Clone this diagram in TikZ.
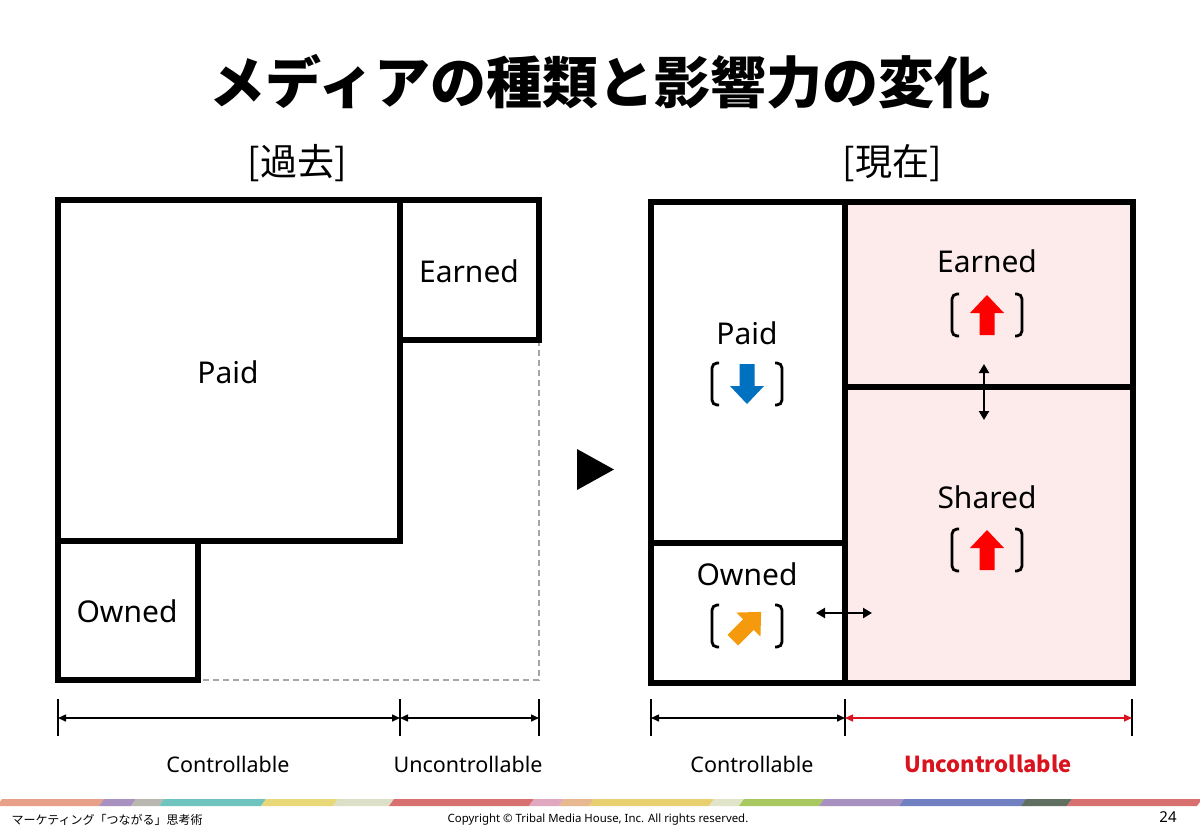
\documentclass[tikz,border=0pt]{standalone}
\usepackage{fontspec}
\setmainfont{Noto Sans}
\newfontfamily\cjk{Noto Sans CJK JP}
\usetikzlibrary{arrows.meta}
\definecolor{paidblue}{HTML}{0070C0}
\definecolor{risered}{HTML}{FF0000}
\definecolor{ownedorange}{HTML}{F59A0C}
\definecolor{sharedpink}{HTML}{FDEBEB}
\definecolor{limitred}{HTML}{D9141E}
\definecolor{dashgray}{HTML}{A6A6A6}
\tikzstyle{mediabox} = [
    draw=black,
    line width=6pt
    ]
\tikzstyle{medialabel} = [
    font=\fontsize{30}{36}\selectfont
    ]
\tikzstyle{scalelabel} = [
    font=\fontsize{21.5}{26}\selectfont
    ]
\tikzstyle{eratitle} = [
    font=\cjk\fontsize{37}{42}\selectfont
    ]
\tikzstyle{dimtick} = [
    line width=2pt
    ]
\tikzstyle{dimline} = [
    line width=1.5pt,
    {Triangle[length=8pt,width=7pt]}-{Triangle[length=8pt,width=7pt]}
    ]
\tikzstyle{swaparrow} = [
    line width=2.5pt,
    {Triangle[length=9pt,width=10pt]}-{Triangle[length=9pt,width=10pt]}
    ]
\newcommand{\trendmark}[4]{%
    \draw[line width=2.8pt, rounded corners=5pt] (#1-28,#2-21) -- (#1-35,#2-21) -- (#1-35,#2+21) -- (#1-28,#2+21);
    \draw[line width=2.8pt, rounded corners=5pt] (#1+28,#2-21) -- (#1+35,#2-21) -- (#1+35,#2+21) -- (#1+28,#2+21);
    \fill[#4, shift={(#1,#2)}, rotate=#3] (0,-20) -- (17,-2) -- (7.5,-2) -- (7.5,20) -- (-7.5,20) -- (-7.5,-2) -- (-17,-2) -- cycle;
}

\begin{document}
\begin{tikzpicture}[x=1pt, y=-1pt]
\useasboundingbox (0,0) rectangle (1200,831);

\node (title) at (600,82) {\cjk\bfseries\fontsize{56}{60}\selectfont メディアの種類と影響力の変化};

% past
\node[eratitle] (past) at (297,163) {[過去]};
\draw[dashgray, line width=1.5pt, dash pattern=on 6pt off 4pt] (539,340) -- (539,680) -- (198,680);
\draw[mediabox] (58,200) rectangle (400,541);
\draw[mediabox] (400,200) rectangle (539,340);
\draw[mediabox] (58,541) rectangle (198,680);
\node[medialabel] (paidpast) at (228,372) {Paid};
\node[medialabel] (earnedpast) at (469,271) {Earned};
\node[medialabel] (ownedpast) at (127,611) {Owned};

\coordinate (pa) at (58,718);
\coordinate (pb) at (400,718);
\coordinate (pc) at (539,718);
\foreach \p in {pa,pb,pc}
    \draw[dimtick] ([yshift=-18pt]\p) -- ([yshift=19pt]\p);
\draw[dimline] (pa) -- (pb);
\draw[dimline] (pb) -- (pc);
\node[scalelabel] (ctrlpast) at (228,764) {Controllable};
\node[scalelabel] (unctrlpast) at (468,764) {Uncontrollable};

\fill (577,449) -- (614,469.5) -- (577,490) -- cycle;

% now
\node[eratitle] (now) at (892,163) {[現在]};
\fill[sharedpink] (845,202) rectangle (1133,683);
\draw[mediabox] (651,202) rectangle (1133,683);
\draw[mediabox] (845,202) -- (845,683);
\draw[mediabox] (845,387) -- (1133,387);
\draw[mediabox] (651,543) -- (845,543);
\node[medialabel] (paidnow) at (747,333) {Paid};
\node[medialabel] (earnednow) at (987,261) {Earned};
\node[medialabel] (sharednow) at (987,497) {Shared};
\node[medialabel] (ownednow) at (747,574) {Owned};
\trendmark{747}{384}{180}{paidblue}
\trendmark{987}{315}{0}{risered}
\trendmark{987}{550}{0}{risered}
\trendmark{747}{626}{-45}{ownedorange}

\coordinate (ea) at (984,364);
\coordinate (eb) at (984,420);
\draw[swaparrow] (ea) -- (eb);
\coordinate (oa) at (816,613);
\coordinate (ob) at (872,613);
\draw[swaparrow] (oa) -- (ob);

\coordinate (na) at (651,718);
\coordinate (nb) at (845,718);
\coordinate (nc) at (1132,718);
\foreach \p in {na,nb,nc}
    \draw[dimtick] ([yshift=-18pt]\p) -- ([yshift=19pt]\p);
\draw[dimline] (na) -- (nb);
\draw[dimline, limitred] (nb) -- (nc);
\node[scalelabel] (ctrlnow) at (752,764) {Controllable};
\node[text=limitred, font=\cjk\bfseries\fontsize{22}{26}\selectfont] (unctrlnow) at (988,764) {Uncontrollable};

% footer
\foreach \xa/\xb/\c in {0/102/E8A088, 102/134/A890C0, 134/162/B8B8B0, 162/264/70C4C0, 264/336/E8D878, 336/392/DDE0C8, 392/532/D87070, 532/562/E0A8C0, 562/592/E8B890, 592/712/E8D070, 712/742/E0E4C8, 742/822/A8C860, 822/902/A890C0, 902/1024/7080C0, 1024/1070/607060, 1070/1200/D87070}{
    \definecolor{stripcolor}{HTML}{\c}
    \fill[stripcolor] (\xa-3,806) -- (\xa+2,799) -- (\xb+2,799) -- (\xb-3,806) -- cycle;
}
\node[anchor=west, font=\cjk\fontsize{12}{14}\selectfont] (series) at (8,820) {マーケティング「つながる」思考術};
\node[font=\fontsize{11.4}{13}\selectfont] (copyright) at (598,820) {Copyright © Tribal Media House, Inc. All rights reserved.};
\node[font=\fontsize{15}{17}\selectfont] (pageno) at (1168,817) {24};
\end{tikzpicture}
\end{document}
